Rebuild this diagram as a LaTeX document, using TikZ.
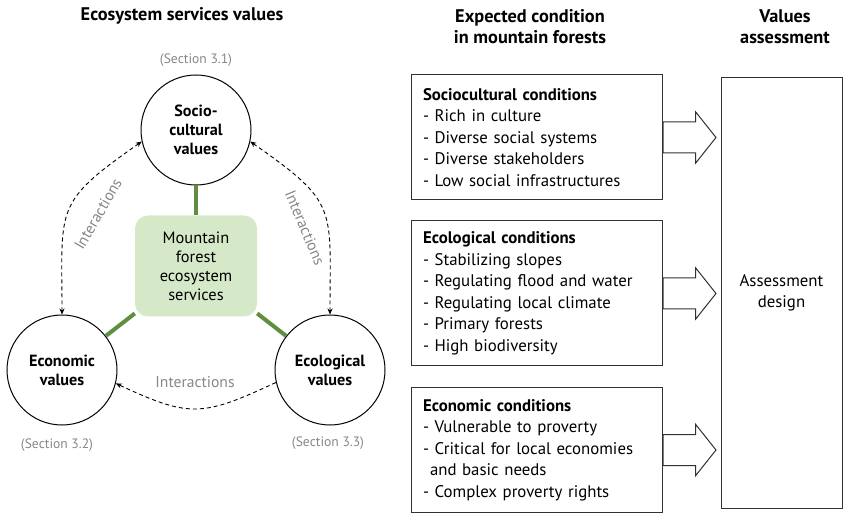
\documentclass[tikz,border=0pt]{standalone}
\usepackage{fontspec}
\setmainfont{PT Sans}
\usetikzlibrary{arrows.meta,shapes.arrows,positioning}
\definecolor{MfesFill}{RGB}{213,232,200}
\definecolor{MfesLine}{RGB}{94,142,62}
\definecolor{NoteGray}{RGB}{135,135,135}
\definecolor{EdgeGray}{RGB}{50,50,50}

\begin{document}
\begin{tikzpicture}[x=1pt,y=1pt,>={Stealth[length=6pt,width=5pt]},
  every node/.style={align=center,font=\fontsize{16.4}{19}\selectfont},
  header/.style={font=\bfseries\fontsize{18.3}{21}\selectfont},
  valcirc/.style={draw,circle,line width=1pt,minimum size=110pt,inner sep=0pt,font=\bfseries\fontsize{16.2}{19}\selectfont},
  secnote/.style={text=NoteGray,font=\fontsize{13.6}{15}\selectfont},
  inter/.style={text=NoteGray,font=\fontsize{15.6}{17}\selectfont},
  interarrow/.style={dash pattern=on 4pt off 3pt,line width=0.9pt},
  greenlink/.style={MfesLine,line width=4pt},
  condbox/.style={draw=EdgeGray,line width=1pt,minimum width=251pt,text width=227pt,inner xsep=12pt,align=left,font=\fontsize{16.8}{21.5}\selectfont},
  blockarrow/.style={draw=EdgeGray,single arrow,line width=1pt,inner xsep=0pt,inner ysep=15pt,minimum height=53pt,single arrow head extend=10pt,single arrow tip angle=103,anchor=tail}]
\useasboundingbox (0,0) rectangle (850,519);

\node[header] (ttlleft) at (182,503) {Ecosystem services values};
\node[header] (ttlmid) at (530,492.5) {Expected condition\\in mountain forests};
\node[header] (ttlright) at (785,492.5) {Values\\assessment};

\node[valcirc] (soc) at (196,389) {Socio-\\cultural\\values};
\node[valcirc] (econ) at (62,149) {Economic\\values};
\node[valcirc] (ecol) at (330,149) {Ecological\\values};
\node[secnote] (sec1) at (196,459) {(Section 3.1)};
\node[secnote] (sec2) at (57,74) {(Section 3.2)};
\node[secnote] (sec3) at (328,76) {(Section 3.3)};

\node[fill=MfesFill,rounded corners=13pt,minimum width=122pt,minimum height=101pt,inner sep=0pt] (mfes) at (196,253) {Mountain\\forest\\ecosystem\\services};
\foreach \n in {soc,econ,ecol} \draw[greenlink] (mfes) -- (\n);

\draw[interarrow,<->] (soc.192) to[out=215,in=90,looseness=1.45] (econ.north);
\draw[interarrow,<->] (soc.-12) to[out=-35,in=90,looseness=1.45] (ecol.north);
\draw[interarrow,->] (ecol.193) to[out=205,in=-25,looseness=1.3] (econ.-14);
\node[inter,rotate=60] (int1) at (98,305) {Interactions};
\node[inter,rotate=-67] (int2) at (305,291) {Interactions};
\node[inter] (int3) at (195,137) {Interactions};

\node[condbox,minimum height=125pt] (socbox) at (536.5,381.5) {{\bfseries Sociocultural conditions}\\- Rich in culture\\- Diverse social systems\\- Diverse stakeholders\\- Low social infrastructures};
\node[condbox,minimum height=145pt] (ecobox) at (536.5,225.5) {{\bfseries Ecological conditions}\\- Stabilizing slopes\\- Regulating flood and water\\- Regulating local climate\\- Primary forests\\- High biodiversity};
\node[condbox,minimum height=124pt] (econbox) at (536.5,69) {{\bfseries Economic conditions}\\- Vulnerable to proverty\\- Critical for local economies\\\hspace*{7pt}and basic needs\\- Complex proverty rights};

\node[draw=EdgeGray,line width=1pt,minimum width=121pt,minimum height=430pt,font=\fontsize{16.8}{21}\selectfont] (assess) at (781.5,226) {Assessment\\design};
\foreach \b/\a in {socbox/arr1,ecobox/arr2,econbox/arr3}
  \node[blockarrow] (\a) at (\b.east) {};
\end{tikzpicture}
\end{document}
